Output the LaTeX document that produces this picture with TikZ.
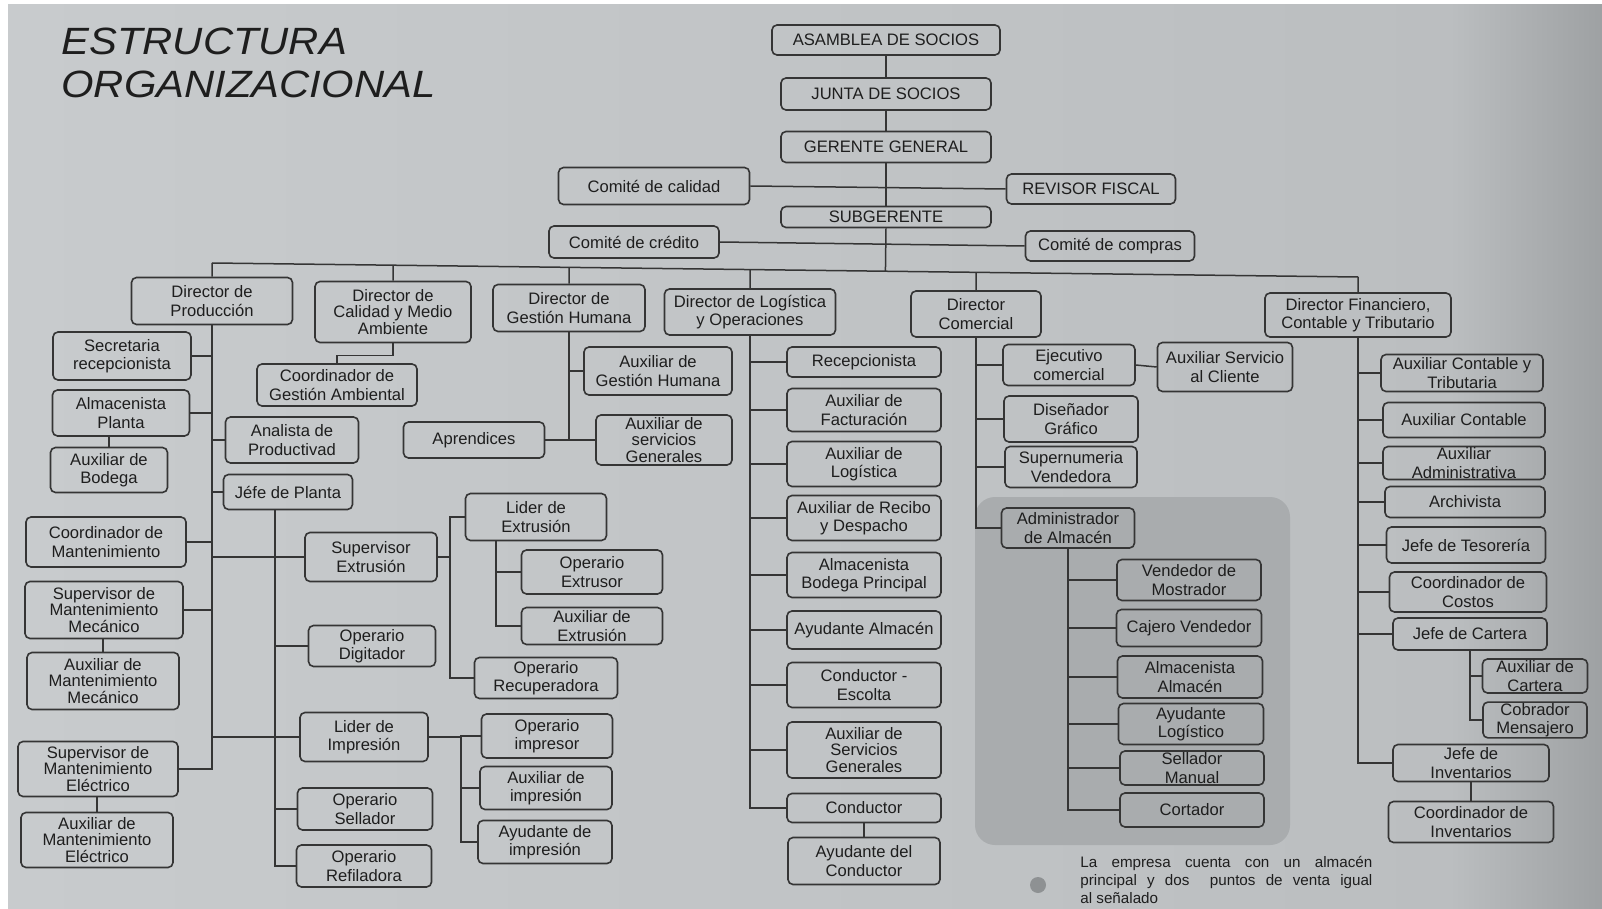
\documentclass[tikz,border=0pt]{standalone}
\usepackage{fontspec}
\usepackage{graphicx}
\setmainfont{Liberation Sans}
\usetikzlibrary{calc}
\definecolor{bgL}{HTML}{C8CBCD}
\definecolor{bgM}{HTML}{BBBEC0}
\definecolor{bgR}{HTML}{9EA1A3}
\definecolor{areac}{HTML}{A9ACAE}
\definecolor{linec}{HTML}{353535}
\definecolor{textc}{HTML}{1E1E1E}
\definecolor{dotc}{HTML}{8E9193}
\newcommand{\boxfont}{\fontsize{8.3}{9.2}\selectfont}
\newcommand{\tresfont}{\fontsize{8.3}{8.4}\selectfont}
\tikzset{
 caja/.style 2 args={draw=linec, line width=0.8pt, rounded corners=2.5pt, inner sep=0.5pt, align=center, text=textc, font=\boxfont, minimum width=#1*0.5pt, minimum height=#2*0.5pt},
 cajatres/.style 2 args={caja={#1}{#2}, font=\tresfont},
 ln/.style={draw=linec, line width=0.75pt},
 titulo/.style={anchor=base west, inner sep=0pt, text=textc},
}
\newcommand{\cajanode}[6]{\node[caja={#4}{#5}] (#1) at (#2,#3) {#6};}
\newcommand{\cajatresnode}[6]{\node[cajatres={#4}{#5}] (#1) at (#2,#3) {#6};}
\begin{document}
\begin{tikzpicture}[x=0.5pt,y=-0.5pt]
\useasboundingbox (0,0) rectangle (1602,909);
\clip (0,0) rectangle (1602,909);
% background
\fill[white] (0,0) rectangle (1602,909);
\shade[left color=bgL, right color=bgM] (8,5) rectangle (1451,909);
\shade[left color=bgM, right color=bgR] (1450,5) rectangle (1602,909);
\fill[areac, rounded corners=10pt] (975,497) rectangle (1290,845);
% title
\node[titulo] (t1) at (61,55) {\scalebox{1.1}[1]{\fontsize{19}{19}\selectfont\itshape ESTRUCTURA}};
\node[titulo] (t2) at (61,98) {\scalebox{1.1}[1]{\fontsize{19}{19}\selectfont\itshape ORGANIZACIONAL}};
% top chain
\cajanode{asam}{886}{40}{228}{30}{ASAMBLEA DE SOCIOS}
\cajanode{junta}{886}{94}{210}{32}{JUNTA DE SOCIOS}
\cajanode{ger}{886}{147}{210}{31}{GERENTE GENERAL}
\cajanode{cal}{654}{186}{191}{37}{Comité de calidad}
\cajanode{rev}{1091}{189}{169}{30}{REVISOR FISCAL}
\cajanode{sub}{886}{217}{210}{21}{SUBGERENTE}
\cajanode{cred}{634}{242}{170}{32}{Comité de crédito}
\cajanode{comp}{1110}{246}{169}{30}{Comité de compras}
% directors
\cajanode{dprod}{212}{301}{161}{47}{Director de\\Producción}
\cajatresnode{dcal}{393}{312}{156}{61}{Director de\\Calidad y Medio\\Ambiente}
\cajanode{dgh}{569}{308}{152}{47}{Director de\\Gestión Humana}
\cajanode{dlog}{750}{312}{171}{46}{Director de Logística\\y Operaciones}
\cajanode{dcom}{976}{314}{130}{46}{Director\\Comercial}
\cajanode{dfin}{1358}{315}{186}{44}{Director Financiero,\\Contable y Tributario}
% produccion
\cajanode{sec}{122}{356}{138}{48}{Secretaria\\recepcionista}
\cajanode{alm}{121}{413}{137}{46}{Almacenista\\Planta}
\cajanode{bod}{109}{470}{117}{45}{Auxiliar de\\Bodega}
\cajanode{anal}{292}{440}{133}{46}{Analista de\\Productivad}
\cajanode{jefe}{288}{492}{129}{35}{Jéfe de Planta}
\cajanode{cman}{106}{542}{160}{50}{Coordinador de\\Mantenimiento}
\cajanode{sext}{371}{557}{132}{49}{Supervisor\\Extrusión}
\cajatresnode{smec}{104}{610}{158}{57}{Supervisor de\\Mantenimiento\\Mecánico}
\cajatresnode{amec}{103}{681}{152}{57}{Auxiliar de\\Mantenimiento\\Mecánico}
\cajatresnode{sele}{98}{769}{160}{55}{Supervisor de\\Mantenimiento\\Eléctrico}
\cajatresnode{aele}{97}{840}{152}{55}{Auxiliar de\\Mantenimiento\\Eléctrico}
\cajanode{dig}{372}{646}{127}{41}{Operario\\Digitador}
\cajanode{limp}{364}{737}{128}{49}{Lider de\\Impresión}
\cajanode{sel}{365}{809}{135}{42}{Operario\\Sellador}
\cajanode{ref}{364}{866}{135}{42}{Operario\\Refiladora}
\cajanode{lext}{536}{517}{141}{47}{Lider de\\Extrusión}
\cajanode{oext}{592}{572}{141}{44}{Operario\\Extrusor}
\cajanode{aext}{592}{626}{141}{37}{Auxiliar de\\Extrusión}
\cajanode{orec}{546}{678}{143}{41}{Operario\\Recuperadora}
\cajanode{oimp}{547}{736}{131}{44}{Operario\\impresor}
\cajanode{aimp}{546}{788}{132}{43}{Auxiliar de\\impresión}
\cajanode{ayimp}{545}{842}{134}{43}{Ayudante de\\impresión}
% calidad
\cajanode{cga}{337}{385}{160}{42}{Coordinador de\\Gestión Ambiental}
% gestion humana
\cajanode{agh}{658}{371}{148}{48}{Auxiliar de\\Gestión Humana}
\cajatresnode{asg}{664}{440}{136}{50}{Auxiliar de\\servicios\\Generales}
\cajanode{apr}{474}{440}{141}{36}{Aprendices}
% logistica
\cajanode{rec}{864}{362}{154}{30}{Recepcionista}
\cajanode{afac}{864}{410}{154}{43}{Auxiliar de\\Facturación}
\cajanode{alog}{864}{464}{154}{45}{Auxiliar de\\Logística}
\cajanode{arec}{864}{518}{154}{45}{Auxiliar de Recibo\\y Despacho}
\cajanode{abp}{864}{575}{154}{45}{Almacenista\\Bodega Principal}
\cajanode{ayal}{864}{630}{154}{38}{Ayudante Almacén}
\cajanode{cesc}{864}{685}{154}{45}{Conductor -\\Escolta}
\cajatresnode{asgl}{864}{750}{154}{56}{Auxiliar de\\Servicios\\Generales}
\cajanode{cond}{864}{808}{154}{29}{Conductor}
\cajanode{ayc}{864}{861}{152}{47}{Ayudante del\\Conductor}
% comercial
\cajanode{ejec}{1069}{365}{132}{41}{Ejecutivo\\comercial}
\cajanode{asc}{1225}{367}{135}{49}{Auxiliar Servicio\\al Cliente}
\cajanode{dis}{1071}{419}{134}{46}{Diseñador\\Gráfico}
\cajanode{supv}{1071}{467}{132}{41}{Supernumeria\\Vendedora}
\cajanode{adm}{1068}{528}{133}{40}{Administrador\\de Almacén}
\cajanode{vm}{1189}{580}{144}{41}{Vendedor de\\Mostrador}
\cajanode{cv}{1189}{628}{145}{37}{Cajero Vendedor}
\cajanode{aa}{1190}{677}{145}{42}{Almacenista\\Almacén}
\cajanode{al}{1191}{724}{145}{41}{Ayudante\\Logístico}
\cajanode{sm}{1192}{768}{144}{34}{Sellador\\Manual}
\cajanode{cort}{1192}{810}{144}{34}{Cortador}
% financiero
\cajanode{acyt}{1462}{373}{162}{37}{Auxiliar Contable y\\Tributaria}
\cajanode{acont}{1464}{420}{162}{35}{Auxiliar Contable}
\cajanode{aadm}{1464}{463}{162}{33}{Auxiliar\\Administrativa}
\cajanode{arch}{1465}{502}{160}{31}{Archivista}
\cajanode{jtes}{1466}{545}{159}{36}{Jefe de Tesorería}
\cajanode{ccos}{1468}{592}{157}{40}{Coordinador de\\Costos}
\cajanode{jcar}{1470}{634}{154}{32}{Jefe de Cartera}
\cajanode{acar}{1535}{676}{105}{34}{Auxiliar de\\Cartera}
\cajanode{cobr}{1535}{720}{104}{35}{Cobrador\\Mensajero}
\cajanode{jinv}{1471}{763}{156}{37}{Jefe de\\Inventarios}
\cajanode{cinv}{1471}{822}{165}{41}{Coordinador de\\Inventarios}
% connectors: top
\coordinate (busL) at (212,263);
\coordinate (busR) at (1358,277);
\draw[ln] (asam.south) -- (junta.north);
\draw[ln] (junta.south) -- (ger.north);
\draw[ln] (ger.south) -- (sub.north);
\draw[ln] (cal.east) -- (rev.west);
\draw[ln] (cred.east) -- (comp.west);
\draw[ln] (sub.south) -- ($(busL)!(sub.south)!(busR)$);
\draw[ln] (busL) -- (busR);
\foreach \nn in {dprod,dcal,dgh,dlog,dcom,dfin}
  \draw[ln] (\nn.north) -- ($(busL)!(\nn.north)!(busR)$);
% produccion
\foreach \nn in {sec,alm,cman,smec,sele}
  \draw[ln] (dprod.south) |- (\nn.east);
\foreach \nn in {anal,jefe,sext,limp}
  \draw[ln] (dprod.south) |- (\nn.west);
\draw[ln] (bod.north) -- (bod.north |- alm.south);
\draw[ln] (amec.north) -- (amec.north |- smec.south);
\draw[ln] (aele.north) -- (aele.north |- sele.south);
\coordinate (jt) at (275,509.5);
\foreach \nn in {dig,sel,ref}
  \draw[ln] (jt) |- (\nn.west);
\coordinate (sx) at (450,557);
\draw[ln] (sext.east) -- (sx);
\foreach \nn in {lext,orec}
  \draw[ln] (sx) |- (\nn.west);
\coordinate (lx) at (496,540.5);
\foreach \nn in {oext,aext}
  \draw[ln] (lx) |- (\nn.west);
\coordinate (ix) at (461,737);
\draw[ln] (limp.east) -- (ix);
\foreach \nn in {oimp,aimp,ayimp}
  \draw[ln] (ix) |- (\nn.west);
% calidad
\draw[ln] (dcal.south) -- ++(0,12) -| (cga.north);
% gestion humana
\foreach \nn in {agh,asg}
  \draw[ln] (dgh.south) |- (\nn.west);
\draw[ln] (dgh.south) |- (apr.east);
% logistica
\foreach \nn in {rec,afac,alog,arec,abp,ayal,cesc,asgl,cond}
  \draw[ln] (dlog.south) |- (\nn.west);
\draw[ln] (cond.south) -- (ayc.north);
% comercial
\foreach \nn in {ejec,dis,supv,adm}
  \draw[ln] (dcom.south) |- (\nn.west);
\draw[ln] (ejec.east) -- (asc.west);
\foreach \nn in {vm,cv,aa,al,sm,cort}
  \draw[ln] (adm.south) |- (\nn.west);
% financiero
\foreach \nn in {acyt,acont,aadm,arch,jtes,ccos,jcar,jinv}
  \draw[ln] (dfin.south) |- (\nn.west);
\foreach \nn in {acar,cobr}
  \draw[ln] (jcar.south) |- (\nn.west);
\draw[ln] (jinv.south) -- (cinv.north);
% note
\fill[dotc] (1038,885) circle (4pt);
\node[anchor=north west, inner sep=0pt, text=textc, font=\fontsize{7.6}{9}\selectfont, align=left] (note) at (1080,856)
 {\makebox[146pt][s]{La empresa cuenta con un almacén}\\\makebox[146pt][s]{principal y dos\ \ puntos de venta igual}\\al señalado};
\end{tikzpicture}
\end{document}
